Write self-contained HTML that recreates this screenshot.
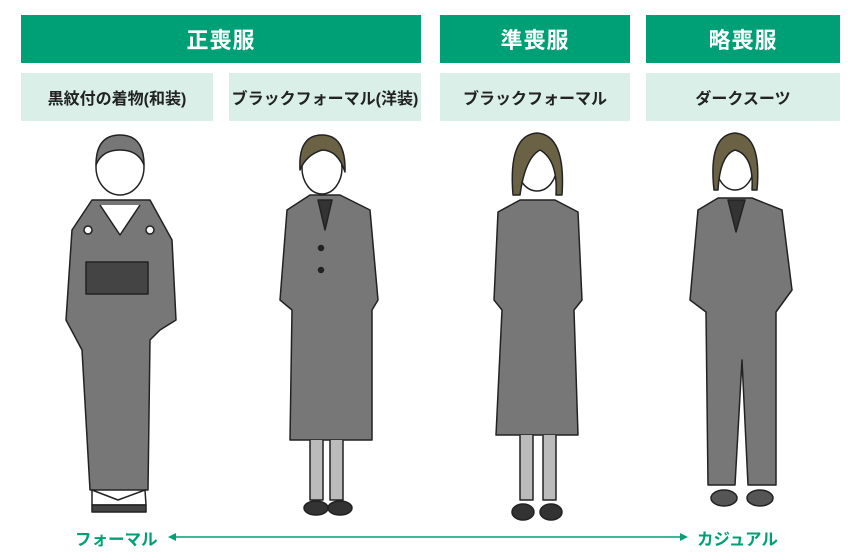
<!DOCTYPE html>
<html><head><meta charset="utf-8"><style>
body{margin:0;width:860px;height:560px;background:#fff;position:relative;overflow:hidden;font-family:"Liberation Sans","Noto Sans CJK JP",sans-serif}
.h{position:absolute;top:15px;height:48px;background:#00a077;color:#fff;font-size:22px;font-weight:bold;display:flex;align-items:center;justify-content:center;letter-spacing:1px}
.s{position:absolute;top:73px;height:48px;background:#d9efe8;color:#222;font-size:16px;font-weight:bold;display:flex;align-items:center;justify-content:center}
.t{position:absolute;top:526px;color:#00a077;font-size:16.5px;font-weight:bold}
svg{position:absolute;left:0;top:0}
</style></head><body>
<div class="h" style="left:21px;width:400px">正喪服</div>
<div class="h" style="left:440px;width:190px">準喪服</div>
<div class="h" style="left:646px;width:194px">略喪服</div>
<div class="s" style="left:21px;width:192px">黒紋付の着物(和装)</div>
<div class="s" style="left:229px;width:192px">ブラックフォーマル(洋装)</div>
<div class="s" style="left:440px;width:190px">ブラックフォーマル</div>
<div class="s" style="left:646px;width:194px">ダークスーツ</div>
<svg width="860" height="560" stroke="#222" stroke-width="1.5" stroke-linejoin="round">
<!-- fig1 kimono -->
<path d="M92 200 L150 200 L172 240 L176 320 L160 330 L150 340 L148 490 L90 490 L82 350 L66 320 L72 230 Z" fill="#777"/>
<path d="M100 205 L120 235 L140 205" fill="#fff"/>
<rect x="86" y="262" width="62" height="32" fill="#444"/>
<ellipse cx="120" cy="167" rx="24" ry="28" fill="#fff"/>
<path d="M96 165 Q96 135 120 135 Q144 135 144 165 Q138 150 120 150 Q102 150 96 165Z" fill="#777"/>
<path d="M92 490 L118 500 L145 490 L146 505 L92 505Z" fill="#fff"/>
<path d="M92 505 L146 505 L146 512 L92 512Z" fill="#444"/>
<circle cx="88" cy="230" r="4" fill="#fff"/><circle cx="150" cy="230" r="4" fill="#fff"/>
<!-- fig2 -->
<path d="M310 195 L340 195 L370 210 L378 300 L372 310 L372 440 L290 440 L292 310 L280 300 L287 210Z" fill="#777"/>
<path d="M318 200 L325 230 L332 200Z" fill="#333"/>
<path d="M310 440 L310 500 L323 500 L323 440 M330 440 L330 500 L343 500 L343 440" fill="#bbb"/>
<ellipse cx="316" cy="508" rx="12" ry="7" fill="#333"/><ellipse cx="340" cy="508" rx="12" ry="7" fill="#333"/>
<ellipse cx="322" cy="168" rx="20" ry="26" fill="#fff"/>
<path d="M300 170 Q298 135 322 135 Q346 135 345 172 Q338 150 322 150 Q306 155 300 170Z" fill="#6b6245"/>
<circle cx="321" cy="248" r="2.5" fill="#222"/><circle cx="321" cy="270" r="2.5" fill="#222"/>
<!-- fig3 -->
<path d="M520 200 L555 200 L578 212 L582 300 L574 310 L578 435 L496 435 L502 310 L494 300 L498 212Z" fill="#777"/>
<path d="M520 435 L520 500 L533 500 L533 435 M543 435 L543 500 L556 500 L556 435" fill="#bbb"/>
<ellipse cx="523" cy="512" rx="11" ry="8" fill="#333"/><ellipse cx="551" cy="512" rx="11" ry="8" fill="#333"/>
<ellipse cx="537" cy="165" rx="20" ry="26" fill="#fff"/>
<path d="M513 195 Q508 135 537 133 Q566 135 562 195 L556 195 Q558 160 540 150 Q525 158 520 195Z" fill="#6b6245"/>
<!-- fig4 -->
<path d="M718 198 L752 198 L782 210 L792 290 L776 312 L776 485 L748 485 L742 360 L735 485 L708 485 L706 312 L690 300 L698 210Z" fill="#777"/>
<path d="M728 200 L736 232 L745 200Z" fill="#333"/>
<ellipse cx="724" cy="498" rx="13" ry="8" fill="#555"/><ellipse cx="760" cy="498" rx="13" ry="8" fill="#555"/>
<ellipse cx="735" cy="165" rx="19" ry="25" fill="#fff"/>
<path d="M714 190 Q708 135 735 133 Q762 135 757 190 L752 190 Q754 155 735 150 Q720 155 718 190Z" fill="#6b6245"/>
<!-- arrow -->
<line x1="170" y1="537" x2="686" y2="537" stroke="#00a077" stroke-width="1.5"/>
<path d="M168 537 L176 533 L176 541Z M688 537 L680 533 L680 541Z" fill="#00a077" stroke="none"/>
</svg>
<div class="t" style="left:75px">フォーマル</div>
<div class="t" style="left:697px">カジュアル</div>
</body></html>
